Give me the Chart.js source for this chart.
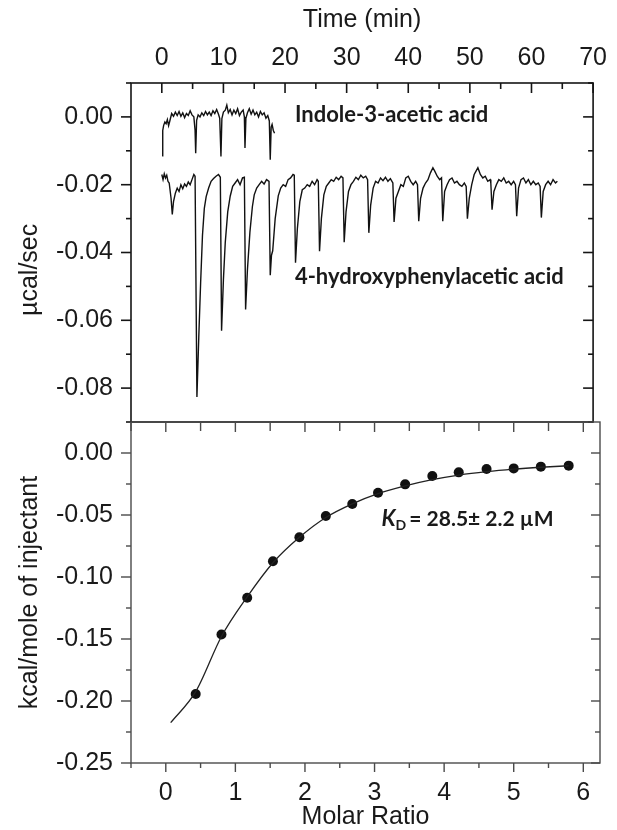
<!DOCTYPE html>
<html>
<head>
<meta charset="utf-8">
<script src="https://cdn.jsdelivr.net/npm/chart.js@4.4.1/dist/chart.umd.min.js"></script>
<style>
    html, body { margin: 0; padding: 0; background: #fff; }
    .panel { position: absolute; left: 0; top: 0; width: 617px; height: 830px; }
</style>
</head>
<body>
<div class="panel"><canvas id="rawChart"></canvas></div>
<div class="panel"><canvas id="fitChart"></canvas></div>
<script>
// Escalas y marcas de los ejes
const timeTicks = [0, 10, 20, 30, 40, 50, 60, 70];
const timeMinor = [5, 15, 25, 35, 45, 55, 65];
const powerTicks = [0, -0.02, -0.04, -0.06, -0.08];
const powerMinor = [0.01, -0.01, -0.03, -0.05, -0.07, -0.09];
const ratioTicks = [0, 1, 2, 3, 4, 5, 6];
const ratioMinor = [-0.5, 0.5, 1.5, 2.5, 3.5, 4.5, 5.5];
const heatTicks = [0, -0.05, -0.10, -0.15, -0.20, -0.25];
const heatMinor = [-0.025, -0.075, -0.125, -0.175, -0.225];

// Termograma: Indole-3-acetic acid [min, µcal/sec]
const iaaRaw = [
    [0.05,-0.0115],[0.15,-0.0040],[0.3,-0.0025],[0.5,-0.0015],[0.7,-0.0020],[0.9,-0.0008],[1.1,-0.0026],
    [1.3,-0.0012],[1.6,0.0010],[1.9,0.0002],[2.2,0.0014],[2.5,0.0004],[2.8,0.0016],[3.1,0.0002],[3.4,0.0012],
    [3.7,-0.0002],[4.0,0.0010],[4.3,0.0004],[4.6,0.0018],[4.9,0.0006],[5.2,0.0000],[5.4,-0.0040],[5.5,-0.0107],
    [5.65,-0.0010],[5.9,0.0006],[6.2,0.0000],[6.5,0.0012],[6.8,0.0004],[7.1,0.0016],[7.4,0.0006],[7.7,0.0014],
    [8.0,0.0004],[8.3,0.0018],[8.6,0.0010],[8.9,0.0022],[9.2,0.0008],[9.4,-0.0004],[9.6,-0.0117],[9.75,-0.0005],
    [10.0,0.0014],[10.3,0.0020],[10.55,0.0035],[10.8,0.0012],[11.1,0.0022],[11.4,0.0006],[11.7,0.0020],
    [12.0,0.0010],[12.3,0.0024],[12.6,0.0004],[12.9,0.0014],[13.2,0.0020],[13.4,0.0000],[13.5,-0.0092],
    [13.65,-0.0004],[13.9,0.0012],[14.2,0.0024],[14.5,0.0008],[14.8,0.0020],[15.1,0.0006],[15.4,0.0014],
    [15.7,0.0000],[16.0,0.0016],[16.3,0.0006],[16.6,0.0012],[16.9,-0.0004],[17.2,0.0004],[17.45,-0.0012],
    [17.6,-0.0126],[17.75,-0.0030],[17.9,-0.0022],[18.1,-0.0040],[18.3,-0.0048]
];

// Termograma: 4-hydroxyphenylacetic acid [min, µcal/sec]
const hpaRaw = [
    [0.0,-0.0170],[0.2,-0.0185],[0.4,-0.0168],[0.6,-0.0180],[0.8,-0.0172],[1.0,-0.0190],[1.2,-0.0195],
    [1.5,-0.0240],[1.7,-0.0288],[1.9,-0.0250],[2.2,-0.0225],[2.5,-0.0210],[2.8,-0.0220],[3.1,-0.0200],
    [3.4,-0.0212],[3.7,-0.0198],[4.0,-0.0205],[4.3,-0.0192],[4.6,-0.0200],[4.9,-0.0185],[5.2,-0.0170],[5.4,-0.0175],
    [5.7,-0.0826],[6.0,-0.0650],[6.3,-0.0490],[6.6,-0.0350],[6.9,-0.0270],[7.2,-0.0235],[7.6,-0.0210],
    [8.0,-0.0190],[8.4,-0.0182],[8.8,-0.0175],[9.2,-0.0170],[9.5,-0.0178],
    [9.7,-0.0631],[10.0,-0.0480],[10.3,-0.0370],[10.7,-0.0280],[11.1,-0.0234],[11.5,-0.0205],[11.9,-0.0195],
    [12.3,-0.0185],[12.7,-0.0200],[13.1,-0.0180],[13.4,-0.0178],
    [13.6,-0.0568],[13.9,-0.0450],[14.3,-0.0340],[14.7,-0.0265],[15.0,-0.0230],[15.4,-0.0210],[15.8,-0.0200],
    [16.2,-0.0190],[16.6,-0.0198],[17.0,-0.0185],[17.4,-0.0190],
    [17.6,-0.0467],[17.8,-0.0408],[18.0,-0.0395],[18.4,-0.0300],[18.9,-0.0233],[19.3,-0.0210],[19.7,-0.0200],
    [20.1,-0.0205],[20.5,-0.0185],[20.9,-0.0180],[21.3,-0.0170],[21.5,-0.0172],
    [21.7,-0.0430],[22.0,-0.0330],[22.4,-0.0250],[22.8,-0.0215],[23.2,-0.0210],[23.6,-0.0200],[24.0,-0.0205],
    [24.4,-0.0190],[24.8,-0.0200],[25.2,-0.0185],[25.4,-0.0190],
    [25.6,-0.0396],[25.9,-0.0300],[26.3,-0.0230],[26.7,-0.0205],[27.1,-0.0195],[27.5,-0.0185],[27.9,-0.0190],
    [28.3,-0.0178],[28.7,-0.0185],[29.1,-0.0175],[29.4,-0.0180],
    [29.6,-0.0370],[29.9,-0.0280],[30.3,-0.0220],[30.7,-0.0200],[31.1,-0.0190],[31.5,-0.0178],[31.9,-0.0185],
    [32.3,-0.0172],[32.7,-0.0180],[33.1,-0.0175],[33.4,-0.0185],
    [33.6,-0.0342],[33.9,-0.0260],[34.3,-0.0210],[34.7,-0.0190],[35.1,-0.0195],[35.5,-0.0180],[35.9,-0.0188],
    [36.3,-0.0178],[36.7,-0.0190],[37.1,-0.0182],[37.5,-0.0195],
    [37.7,-0.0310],[38.0,-0.0240],[38.4,-0.0220],[38.8,-0.0200],[39.2,-0.0205],[39.6,-0.0180],[40.0,-0.0175],
    [40.4,-0.0190],[40.8,-0.0200],[41.2,-0.0190],[41.5,-0.0200],
    [41.7,-0.0308],[42.0,-0.0240],[42.4,-0.0210],[42.8,-0.0195],[43.2,-0.0185],[43.6,-0.0165],[44.0,-0.0150],
    [44.3,-0.0160],[44.7,-0.0175],[45.1,-0.0185],[45.4,-0.0180],
    [45.6,-0.0308],[45.9,-0.0220],[46.3,-0.0200],[46.7,-0.0185],[47.1,-0.0180],[47.5,-0.0195],[47.9,-0.0190],
    [48.3,-0.0200],[48.7,-0.0205],[49.1,-0.0195],[49.4,-0.0205],
    [49.6,-0.0300],[49.9,-0.0240],[50.3,-0.0200],[50.7,-0.0170],[51.0,-0.0160],[51.3,-0.0150],[51.7,-0.0170],
    [52.1,-0.0180],[52.5,-0.0175],[52.9,-0.0190],[53.3,-0.0185],[53.4,-0.0195],
    [53.6,-0.0274],[53.9,-0.0220],[54.3,-0.0200],[54.7,-0.0185],[55.1,-0.0190],[55.5,-0.0180],[55.9,-0.0195],
    [56.3,-0.0190],[56.7,-0.0200],[57.1,-0.0190],[57.4,-0.0200],
    [57.6,-0.0293],[57.9,-0.0210],[58.3,-0.0185],[58.7,-0.0180],[59.1,-0.0195],[59.5,-0.0185],[59.9,-0.0200],
    [60.3,-0.0190],[60.7,-0.0200],[61.1,-0.0195],[61.4,-0.0205],
    [61.6,-0.0297],[61.9,-0.0220],[62.3,-0.0200],[62.7,-0.0190],[63.1,-0.0200],[63.5,-0.0185],[63.9,-0.0195],
    [64.2,-0.0190]
];

// Calores integrados (kcal/mole of injectant) y ajuste
const molarRatio = [0.43, 0.80, 1.17, 1.54, 1.92, 2.30, 2.68, 3.05, 3.44, 3.83, 4.21, 4.61, 5.00, 5.39, 5.79];
const heat = [-0.1943, -0.1464, -0.1167, -0.0873, -0.0680, -0.0508, -0.0411, -0.0320, -0.0253, -0.0185,
              -0.0156, -0.0129, -0.0124, -0.0110, -0.0102];
const fitRatio = [0.07, 0.43, 0.80, 1.17, 1.54, 1.92, 2.30, 2.68, 3.05, 3.44, 3.83, 4.21, 4.61, 5.00, 5.39, 5.79];
const fitHeat = [-0.2175, -0.1925, -0.1480, -0.1160, -0.0885, -0.0680, -0.0520, -0.0410, -0.0328, -0.0265,
                 -0.0215, -0.0178, -0.0150, -0.0130, -0.0115, -0.0103];

const TXT = '#1a1a1a';
const fuenteEje = { family: 'Liberation Sans', size: 25 };
const fuenteTitulo = { family: 'Liberation Sans', size: 25, lineHeight: 1.0 };

// Marco y marcas de los ejes (dentro / fuera)
const marcasEjes = {
    id: 'marcasEjes',
    afterDraw(chart, args, opts) {
        const ctx = chart.ctx;
        const a = chart.chartArea;
        ctx.save();
        ctx.strokeStyle = opts.color;
        ctx.lineWidth = opts.width;
        ctx.strokeRect(a.left, a.top, a.right - a.left, a.bottom - a.top);
        opts.lados.forEach((l) => {
            const scale = chart.scales[l.eje];
            const marca = (v, len) => {
                const p = scale.getPixelForValue(v);
                ctx.beginPath();
                if (l.lado === 'top') {
                    ctx.moveTo(p, a.top); ctx.lineTo(p, a.top + (l.dentro ? len : -len));
                } else if (l.lado === 'bottom') {
                    ctx.moveTo(p, a.bottom); ctx.lineTo(p, a.bottom + (l.dentro ? -len : len));
                } else if (l.lado === 'left') {
                    ctx.moveTo(a.left, p); ctx.lineTo(a.left + (l.dentro ? len : -len), p);
                } else {
                    ctx.moveTo(a.right, p); ctx.lineTo(a.right + (l.dentro ? -len : len), p);
                }
                ctx.stroke();
            };
            l.mayores.forEach(v => marca(v, l.largo[0]));
            l.menores.forEach(v => marca(v, l.largo[1]));
        });
        ctx.restore();
    }
};

// Textos dentro del área
const rotulos = {
    id: 'rotulos',
    afterDatasetsDraw(chart, args, opts) {
        const ctx = chart.ctx;
        const sx = chart.scales.x;
        const sy = chart.scales.y;
        ctx.save();
        ctx.fillStyle = TXT;
        ctx.textBaseline = 'middle';
        ctx.textAlign = 'left';
        opts.items.forEach((it) => {
            let x = sx.getPixelForValue(it.x);
            const y = sy.getPixelForValue(it.y);
            if (it.kd) {
                ctx.font = 'italic bold 22px Lato';
                ctx.fillText('K', x, y);
                x += ctx.measureText('K').width;
                ctx.font = 'bold 14px Lato';
                ctx.fillText('D', x, y + 7);
                x += ctx.measureText('D').width + 3;
                ctx.font = 'bold 21px Lato';
                ctx.fillText(it.texto, x, y);
            } else {
                ctx.font = 'bold 22px Lato';
                ctx.fillText(it.texto, x, y);
            }
        });
        ctx.restore();
    }
};

const fijarTicks = (lista) => (axis) => { axis.ticks = lista.map(v => ({ value: v })); };

// Panel superior: señal cruda
new Chart(document.getElementById('rawChart'), {
    type: 'line',
    data: {
        datasets: [
            {
                data: iaaRaw.map(p => ({ x: p[0], y: p[1] })),
                borderColor: '#111',
                borderWidth: 1.4,
                pointRadius: 0,
                tension: 0
            },
            {
                data: hpaRaw.map(p => ({ x: p[0], y: p[1] })),
                borderColor: '#111',
                borderWidth: 1.4,
                pointRadius: 0,
                tension: 0
            }
        ]
    },
    options: {
        responsive: true,
        maintainAspectRatio: false,
        animation: false,
        layout: { padding: { left: 0, top: 0, right: 17, bottom: 408 } },
        plugins: {
            legend: { display: false },
            tooltip: { enabled: false },
            marcasEjes: {
                color: '#151515', width: 1.6,
                lados: [
                    { lado: 'top', eje: 'x', mayores: timeTicks, menores: timeMinor, dentro: true, largo: [10, 6] },
                    { lado: 'left', eje: 'y', mayores: powerTicks, menores: powerMinor, dentro: false, largo: [10, 5] },
                    { lado: 'right', eje: 'y', mayores: powerTicks, menores: powerMinor, dentro: true, largo: [10, 5] }
                ]
            },
            rotulos: {
                items: [
                    { x: 21.6, y: 0.0006, texto: 'Indole-3-acetic acid' },
                    { x: 21.6, y: -0.0471, texto: '4-hydroxyphenylacetic acid' }
                ]
            }
        },
        scales: {
            x: {
                type: 'linear',
                position: 'top',
                min: -5,
                max: 70,
                afterBuildTicks: fijarTicks(timeTicks),
                afterFit: (axis) => { axis.height = 83; },
                grid: { display: false, drawTicks: false },
                border: { display: false },
                ticks: { font: fuenteEje, color: TXT, padding: 10, maxRotation: 0, autoSkip: false },
                title: { display: true, text: 'Time (min)', font: fuenteTitulo, color: TXT, padding: { top: 8, bottom: 0 } }
            },
            y: {
                min: -0.09,
                max: 0.01,
                afterBuildTicks: fijarTicks(powerTicks),
                afterFit: (axis) => { axis.width = 131; },
                grid: { display: false, drawTicks: false },
                border: { display: false },
                ticks: { font: fuenteEje, color: TXT, padding: 18, callback: v => v.toFixed(2) },
                // espacios al final para bajar el rótulo como en el original
                title: { display: true, text: 'µcal/sec     ', font: fuenteTitulo, color: TXT, padding: { top: 18, bottom: 0 } }
            }
        }
    },
    plugins: [marcasEjes, rotulos]
});

// Panel inferior: isoterma integrada
new Chart(document.getElementById('fitChart'), {
    type: 'line',
    data: {
        datasets: [
            {
                data: fitRatio.map((r, i) => ({ x: r, y: fitHeat[i] })),
                borderColor: '#222',
                borderWidth: 1.3,
                pointRadius: 0,
                cubicInterpolationMode: 'monotone'
            },
            {
                data: molarRatio.map((r, i) => ({ x: r, y: heat[i] })),
                showLine: false,
                pointRadius: 5,
                pointBackgroundColor: '#111',
                pointBorderColor: '#111',
                pointBorderWidth: 0
            }
        ]
    },
    options: {
        responsive: true,
        maintainAspectRatio: false,
        animation: false,
        layout: { padding: { left: 0, top: 422, right: 17, bottom: 0 } },
        plugins: {
            legend: { display: false },
            tooltip: { enabled: false },
            marcasEjes: {
                color: '#4a4a4a', width: 1.4,
                lados: [
                    { lado: 'top', eje: 'x', mayores: ratioTicks, menores: ratioMinor, dentro: true, largo: [10, 9] },
                    { lado: 'bottom', eje: 'x', mayores: ratioTicks, menores: ratioMinor, dentro: false, largo: [9, 5] },
                    { lado: 'left', eje: 'y', mayores: heatTicks, menores: heatMinor, dentro: false, largo: [10, 5] },
                    { lado: 'right', eje: 'y', mayores: heatTicks, menores: heatMinor, dentro: true, largo: [9, 5] }
                ]
            },
            rotulos: {
                items: [
                    { x: 3.10, y: -0.0532, texto: '= 28.5± 2.2 µM', kd: true }
                ]
            }
        },
        scales: {
            x: {
                type: 'linear',
                position: 'bottom',
                min: -0.5,
                max: 6.24,
                afterBuildTicks: fijarTicks(ratioTicks),
                afterFit: (axis) => { axis.height = 67; },
                grid: { display: false, drawTicks: false },
                border: { display: false },
                ticks: { font: fuenteEje, color: TXT, padding: 15, maxRotation: 0, autoSkip: false },
                title: { display: true, text: 'Molar Ratio', font: fuenteTitulo, color: TXT, padding: { top: 0, bottom: 0 } }
            },
            y: {
                min: -0.25,
                max: 0.025,
                afterBuildTicks: fijarTicks(heatTicks),
                afterFit: (axis) => { axis.width = 131; },
                grid: { display: false, drawTicks: false },
                border: { display: false },
                ticks: { font: fuenteEje, color: TXT, padding: 18, callback: v => v.toFixed(2) },
                title: { display: true, text: 'kcal/mole of injectant', font: fuenteTitulo, color: TXT, padding: { top: 18, bottom: 0 } }
            }
        }
    },
    plugins: [marcasEjes, rotulos]
});
</script>
</body>
</html>
